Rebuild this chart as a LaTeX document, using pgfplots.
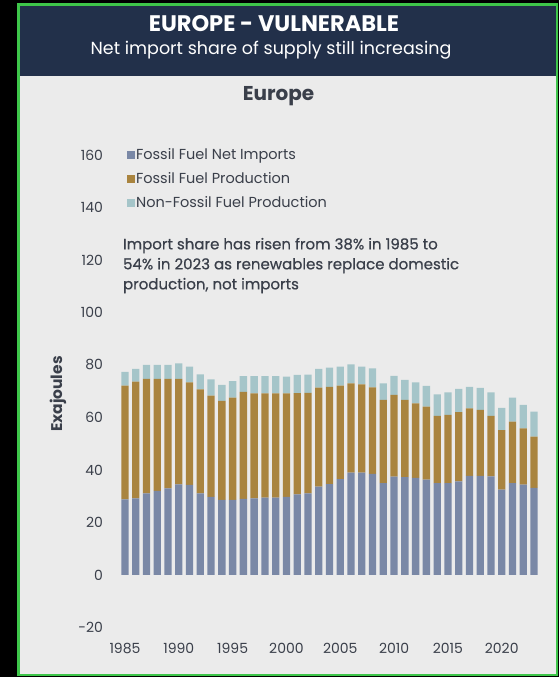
\documentclass[border=0pt]{standalone}
\usepackage{pgfplots}
\usepackage{pgfplotstable}
\pgfplotsset{compat=1.18}
\usepackage{fontspec}
\setmainfont{Poppins}
\newfontfamily\pmed[FakeBold=0.6]{Poppins}
\definecolor{imp}{HTML}{7A88A6}
\definecolor{fos}{HTML}{A9843F}
\definecolor{non}{HTML}{A5C5C9}
\definecolor{panel}{HTML}{EBEBEB}
\definecolor{navy}{HTML}{22304A}
\definecolor{frame}{HTML}{3EC64A}
\definecolor{txt}{HTML}{3A3F4A}

\pgfplotstableread{
year imp fos non
1985 28.8 43.3 5.3
1986 29.2 44.5 4.8
1987 31.1 43.6 5.3
1988 32.0 42.7 5.3
1989 33.0 41.7 5.3
1990 34.5 40.2 5.9
1991 34.3 39.1 6.0
1992 31.1 39.6 5.7
1993 29.8 38.5 6.2
1994 28.6 37.7 6.1
1995 28.6 39.0 6.3
1996 29.0 40.8 6.0
1997 29.2 40.0 6.6
1998 29.5 39.7 6.6
1999 29.5 39.7 6.6
2000 29.8 39.4 6.4
2001 30.7 38.6 6.9
2002 31.1 38.3 6.9
2003 33.7 37.7 7.1
2004 34.6 37.1 7.3
2005 36.5 35.6 7.3
2006 39.0 34.0 7.2
2007 39.0 33.6 6.8
2008 38.5 33.0 7.2
2009 35.0 31.7 6.3
2010 37.5 31.1 7.3
2011 37.3 29.4 7.6
2012 37.0 28.4 8.0
2013 36.3 27.8 7.9
2014 35.0 25.6 8.2
2015 35.0 26.0 8.6
2016 35.7 26.3 8.9
2017 37.8 25.7 8.2
2018 37.8 25.1 8.4
2019 37.6 23.0 9.0
2020 32.5 22.7 8.5
2021 35.0 23.4 9.2
2022 34.4 21.5 8.9
2023 33.2 19.5 9.5
}\datatable

\begin{document}
\begin{tikzpicture}
\useasboundingbox (0pt,0pt) rectangle (559pt,677pt);
\fill[black] (0pt,0pt) rectangle (559pt,677pt);
\fill[panel] (18.5pt,2pt) rectangle (557pt,672.5pt);
\fill[navy] (18.5pt,601pt) rectangle (557pt,672.5pt);
\draw[frame, line width=2.5pt] (18.5pt,2pt) rectangle (557pt,672.5pt);
\node[white, font=\bfseries\fontsize{22.5}{26}\selectfont] at (274pt,653pt) {EUROPE - VULNERABLE};
\node[white, font=\fontsize{17.5}{20}\selectfont] at (271pt,626.5pt) {Net import share of supply still increasing};

\begin{axis}[
  at={(114.2pt,49.5pt)}, anchor=south west,
  scale only axis, width=430.6pt, height=472.5pt,
  xmin=1984, xmax=2024, ymin=-20, ymax=160,
  ybar stacked, bar width=7.3pt,
  axis line style={draw=none}, major tick length=0pt,
  xtick={1985,1990,...,2020}, ytick={-20,0,...,160},
  /pgf/number format/1000 sep={},
  /pgf/number format/assume math mode=true,
  ticklabel style={font=\fontsize{14}{16}\selectfont, text=txt},
  yticklabel style={anchor=east, inner sep=0pt, xshift=-11pt},
  xticklabel style={anchor=north, inner sep=0pt, yshift=-15pt},
  title={Europe},
  title style={at={(axis description cs:0.3816,1.112)}, anchor=center, font=\bfseries\fontsize{20}{24}\selectfont, text=txt},
  ylabel={Exajoules},
  every axis y label/.style={at={(axis description cs:-0.1305,0.494)}, rotate=90, anchor=center, font=\bfseries\fontsize{15.5}{18}\selectfont, text=txt},
  legend image code/.code={\fill[#1] (0pt,-4pt) rectangle (8pt,4pt);},
  legend style={at={(axis cs:1984.9,163.7)}, anchor=north west, draw=none, fill=none,
    font=\fontsize{14.5}{17}\selectfont, text=txt, row sep=9.5pt,
    nodes={inner sep=1pt}},
  legend cell align=left,
]
\addplot[fill=imp, draw=none] table[x=year,y=imp]{\datatable};
\addplot[fill=fos, draw=none] table[x=year,y=fos]{\datatable};
\addplot[fill=non, draw=none] table[x=year,y=non]{\datatable};
\legend{Fossil Fuel Net Imports, Fossil Fuel Production, Non-Fossil Fuel Production}
\node[anchor=north west, align=left, inner sep=0pt, text=txt, font=\pmed\fontsize{15}{20}\selectfont] at (axis cs:1984.8,128.5) {Import share has risen from 38\% in 1985 to\\54\% in 2023 as renewables replace domestic\\production, not imports};
\end{axis}
\end{tikzpicture}
\end{document}
